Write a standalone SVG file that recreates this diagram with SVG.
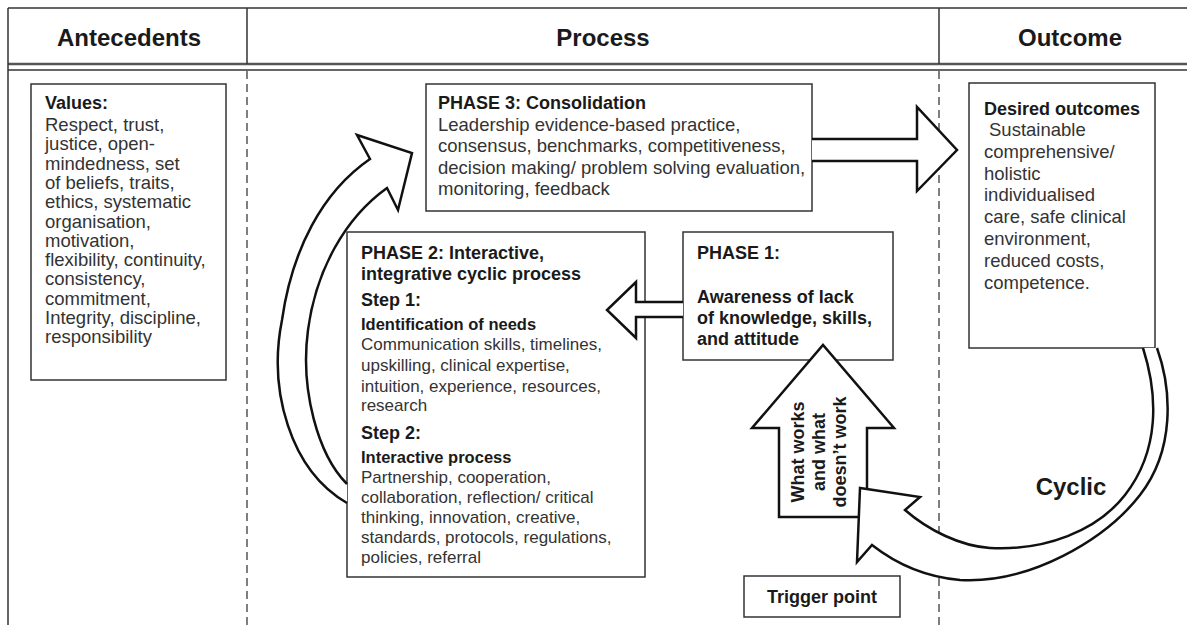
<svg xmlns="http://www.w3.org/2000/svg" width="1187" height="625" viewBox="0 0 1187 625">
<style>
text{font-family:"Liberation Sans",Arial,sans-serif}
.hdr{font-size:24px;font-weight:bold;fill:#1a1a1a}
.t{font-size:18px;font-weight:bold;fill:#1a1a1a}
.r{font-size:18.5px;fill:#333}
.r2{font-size:17px;fill:#333}
.s{font-size:16.5px;font-weight:bold;fill:#1a1a1a}
.box{fill:#fff;stroke:#333;stroke-width:1.5}
.arr{fill:#fff;stroke:#111;stroke-width:2.5;stroke-linejoin:miter}
.dash{stroke:#555;stroke-width:1.5;stroke-dasharray:8 5;fill:none}
.frame{stroke:#333;stroke-width:1.5;fill:none}
</style>
<rect width="1187" height="625" fill="#fff"/>
<g id="frame">
<line class="frame" x1="8" y1="8" x2="1187" y2="8"/>
<line x1="8" y1="64" x2="1187" y2="64" stroke="#555" stroke-width="2.5"/>
<line class="frame" x1="8" y1="70" x2="1187" y2="70"/>
<line class="frame" x1="8" y1="8" x2="8" y2="625"/>
<line class="frame" x1="247" y1="8" x2="247" y2="64"/>
<line class="frame" x1="939" y1="8" x2="939" y2="64"/>
<line class="dash" x1="247" y1="71" x2="247" y2="625"/>
<line class="dash" x1="939" y1="71" x2="939" y2="625"/>
<text class="hdr" x="129" y="46" text-anchor="middle">Antecedents</text>
<text class="hdr" x="603" y="46" text-anchor="middle">Process</text>
<text class="hdr" x="1070" y="46" text-anchor="middle">Outcome</text>
</g>
<g id="values">
<rect class="box" x="31" y="84" width="195" height="296"/>
<text class="t" x="45" y="109">Values:</text>
<text class="r" x="45" y="131">Respect, trust,</text>
<text class="r" x="45" y="150.3">justice, open-</text>
<text class="r" x="45" y="169.6">mindedness, set</text>
<text class="r" x="45" y="188.9">of beliefs, traits,</text>
<text class="r" x="45" y="208.2">ethics, systematic</text>
<text class="r" x="45" y="227.5">organisation,</text>
<text class="r" x="45" y="246.8">motivation,</text>
<text class="r" x="45" y="266.1">flexibility, continuity,</text>
<text class="r" x="45" y="285.4">consistency,</text>
<text class="r" x="45" y="304.7">commitment,</text>
<text class="r" x="45" y="324">Integrity, discipline,</text>
<text class="r" x="45" y="343.3">responsibility</text>
</g>
<g id="phase3">
<rect class="box" x="426" y="84" width="386" height="127"/>
<text class="t" x="438" y="108.5">PHASE 3: Consolidation</text>
<text class="r" x="438" y="130.5">Leadership evidence-based practice,</text>
<text class="r" x="438" y="152">consensus, benchmarks, competitiveness,</text>
<text class="r" x="438" y="173.5">decision making/ problem solving evaluation,</text>
<text class="r" x="438" y="195">monitoring, feedback</text>
</g>
<g id="phase2">
<rect class="box" x="347" y="232" width="298" height="345"/>
<text class="t" x="361" y="258.5">PHASE 2: Interactive,</text>
<text class="t" x="361" y="279.5">integrative cyclic process</text>
<text class="t" x="361" y="305.5">Step 1:</text>
<text class="s" x="361" y="330">Identification of needs</text>
<text class="r2" x="361" y="350">Communication skills, timelines,</text>
<text class="r2" x="361" y="371">upskilling, clinical expertise,</text>
<text class="r2" x="361" y="392">intuition, experience, resources,</text>
<text class="r2" x="361" y="411">research</text>
<text class="t" x="361" y="438.5">Step 2:</text>
<text class="s" x="361" y="463">Interactive process</text>
<text class="r2" x="361" y="483">Partnership, cooperation,</text>
<text class="r2" x="361" y="503">collaboration, reflection/ critical</text>
<text class="r2" x="361" y="523">thinking, innovation, creative,</text>
<text class="r2" x="361" y="543">standards, protocols, regulations,</text>
<text class="r2" x="361" y="563">policies, referral</text>
</g>
<g id="phase1">
<rect class="box" x="683" y="232" width="210" height="128"/>
<text class="t" x="697" y="258.5">PHASE 1:</text>
<text class="t" x="697" y="302.5">Awareness of lack</text>
<text class="t" x="697" y="323.5">of knowledge, skills,</text>
<text class="t" x="697" y="345">and attitude</text>
</g>
<g id="outcomes">
<rect class="box" x="969" y="83" width="186" height="265"/>
<text class="t" x="984" y="114.5">Desired outcomes</text>
<text class="r" x="989" y="136">Sustainable</text>
<text class="r" x="984" y="158">comprehensive/</text>
<text class="r" x="984" y="180">holistic</text>
<text class="r" x="984" y="201">individualised</text>
<text class="r" x="984" y="223">care, safe clinical</text>
<text class="r" x="984" y="245">environment,</text>
<text class="r" x="984" y="267">reduced costs,</text>
<text class="r" x="984" y="289">competence.</text>
</g>
<g id="trigger">
<rect class="box" x="744" y="576" width="156" height="41"/>
<text class="t" x="822" y="602.5" text-anchor="middle">Trigger point</text>
</g>
<g id="connectors">
<path class="arr" d="M812 139 L917 139 L917 107 L957 150 L917 191 L917 161 L812 161"/>
<path class="arr" stroke-width="1.8" d="M683 302 L636 302 L636 282 L607 310 L636 338 L636 317 L683 317"/>
<path class="arr" d="M347 503 C290 470 268 390 282 320 C292 250 322 192 370 159 L357 135 L412 153 L398 210 L387 188 C345 218 316 270 308 330 C300 390 318 455 347 484"/>
<polygon class="arr" points="779,517 779,428 752,428 823,345 894,428 867,428 867,517"/>
<g class="t" transform="translate(0,452)">
<text transform="translate(804,0) rotate(-90)" text-anchor="middle">What works</text>
<text transform="translate(825,0) rotate(-90)" text-anchor="middle">and what</text>
<text transform="translate(846,0) rotate(-90)" text-anchor="middle">doesn’t work</text>
</g>
<path class="arr" d="M1157 348 C1172 390 1175 450 1140 495 C1105 540 1030 584 960 580 C925 577 895 563 872 545 L857 562 L860 488 L920 497 L905 510 C928 530 960 546 990 548 C1045 551 1097 531 1125 495 C1160 450 1158 395 1143 348"/>
<text class="hdr" x="1071" y="495" text-anchor="middle">Cyclic</text>
</g>
</svg>
